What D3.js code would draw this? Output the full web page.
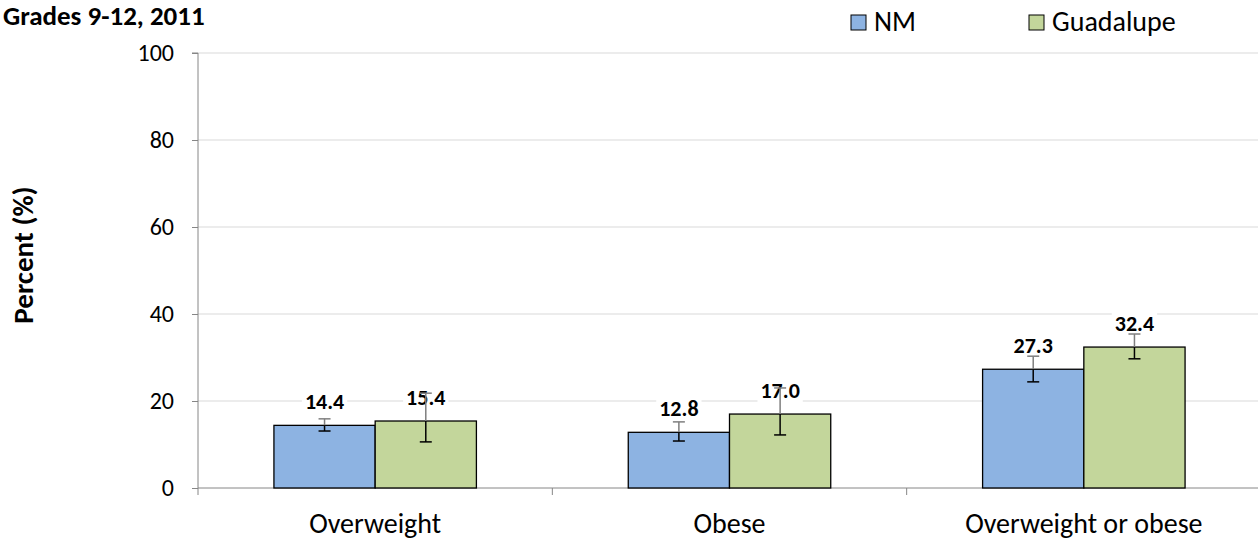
<!DOCTYPE html>
<html><head><meta charset="utf-8">
<script src="https://cdn.jsdelivr.net/npm/d3@7"></script>
<style>body{margin:0;background:#fff}svg{display:block}</style>
</head><body><svg id="c" width="1258" height="542"></svg>
<script>
const categories = ["Overweight", "Obese", "Overweight or obese"];
const seriesNames = ["NM", "Guadalupe"];
const nmValues = [14.4, 12.8, 27.3];
const nmLower = [13.1, 10.8, 24.4];
const nmUpper = [15.9, 15.2, 30.3];
const guadValues = [15.4, 17.0, 32.4];
const guadLower = [10.6, 12.2, 29.7];
const guadUpper = [21.8, 23.0, 35.4];
const yTicks = [0, 20, 40, 60, 80, 100];
const colors = ["#8db3e2", "#c3d69b"];

const font = "Carlito, Lato, 'Liberation Sans', sans-serif";
const svg = d3.select("#c");
const m = {l: 198, r: 1261, t: 53, b: 488};
const x = d3.scaleBand().domain(categories).range([m.l, m.r]).paddingInner(0).paddingOuter(0);
const y = d3.scaleLinear().domain([0, 100]).range([m.b, m.t]);
const inner = d3.scaleBand().domain(seriesNames).range([0, x.bandwidth()]).paddingOuter(0.75).paddingInner(0);

// gridlines
svg.append("g").selectAll("line").data(yTicks.filter(d => d > 0)).join("line")
  .attr("x1", m.l).attr("x2", m.r).attr("y1", d => y(d)).attr("y2", d => y(d))
  .attr("stroke", "#d9d9d9").attr("stroke-width", 1);

// y axis
const ya = svg.append("g").attr("transform", `translate(${m.l},0)`)
  .call(d3.axisLeft(y).tickValues(yTicks).tickSize(6).tickPadding(18));
ya.select(".domain").attr("stroke", "#868686").attr("d", `M-6,${m.t}H0V${m.b+7}`);
ya.selectAll(".tick line").attr("stroke", "#868686");
ya.selectAll(".tick text").attr("font-family", font).attr("font-size", 24).attr("fill", "#000");

// x axis
const xa = svg.append("g").attr("transform", `translate(0,${m.b})`);
xa.append("line").attr("x1", m.l).attr("x2", m.r).attr("y1", 0).attr("y2", 0).attr("stroke", "#868686");
xa.selectAll("line.t").data(categories.slice(1)).join("line").attr("class", "t")
  .attr("x1", d => x(d)).attr("x2", d => x(d)).attr("y1", 0).attr("y2", 7).attr("stroke", "#868686");
xa.selectAll("text").data(categories).join("text")
  .attr("x", d => x(d) + x.bandwidth() / 2).attr("y", 45)
  .attr("text-anchor", "middle").attr("font-family", font).attr("font-size", 28).text(d => d);

const series = [
  {name: seriesNames[0], vals: nmValues, lo: nmLower, hi: nmUpper, color: colors[0]},
  {name: seriesNames[1], vals: guadValues, lo: guadLower, hi: guadUpper, color: colors[1]}
];
const data = [];
series.forEach(s => categories.forEach((c, i) => data.push({c, s: s.name, v: s.vals[i], lo: s.lo[i], hi: s.hi[i], color: s.color})));

const g = svg.append("g");
g.selectAll("rect.bar").data(data).join("rect").attr("class", "bar")
  .attr("x", d => x(d.c) + inner(d.s)).attr("width", inner.bandwidth())
  .attr("y", d => y(d.v)).attr("height", d => y(0) - y(d.v))
  .attr("fill", d => d.color).attr("stroke", "#000").attr("stroke-width", 1.3);

// labels with white background
data.forEach(d => {
  const cx = x(d.c) + inner(d.s) + inner.bandwidth() / 2;
  const cy = y(d.v) - 24;
  const t = g.append("text").attr("x", cx).attr("y", cy).attr("dy", "0.36em")
    .attr("text-anchor", "middle").attr("font-family", font).attr("font-weight", "bold")
    .attr("font-size", 22).text(d.v.toFixed(1));
  const bb = t.node().getBBox();
  g.insert("rect", () => t.node()).attr("x", bb.x - 3).attr("y", bb.y + 2).attr("width", bb.width + 6).attr("height", bb.height - 4)
    .attr("fill", "#fff");
});

// error bars
data.forEach(d => {
  const cx = x(d.c) + inner(d.s) + inner.bandwidth() / 2;
  const top = y(d.hi), bot = y(d.lo), bar = y(d.v);
  const ew = 6;
  if (top < bar) {
    g.append("line").attr("x1", cx).attr("x2", cx).attr("y1", top).attr("y2", bar).attr("stroke", "#7f7f7f").attr("stroke-width", 1.5);
  }
  g.append("line").attr("x1", cx).attr("x2", cx).attr("y1", Math.max(top, bar)).attr("y2", bot).attr("stroke", "#000").attr("stroke-width", 1.5);
  g.append("line").attr("x1", cx - ew).attr("x2", cx + ew).attr("y1", top).attr("y2", top)
    .attr("stroke", top < bar ? "#7f7f7f" : "#000").attr("stroke-width", 1.5);
  g.append("line").attr("x1", cx - ew).attr("x2", cx + ew).attr("y1", bot).attr("y2", bot).attr("stroke", "#000").attr("stroke-width", 1.5);
});

// y title
svg.append("text").attr("transform", "translate(33,255) rotate(-90)").attr("text-anchor", "middle")
  .attr("font-family", font).attr("font-weight", "bold").attr("font-size", 29).text("Percent (%)");
// chart title
svg.append("text").attr("x", 3).attr("y", 25).attr("font-family", font).attr("font-weight", "bold")
  .attr("font-size", 27).text("Grades 9-12, 2011");

// legend
const legX = [851, 1029];
const lg = svg.append("g").selectAll("g").data(series).join("g")
  .attr("transform", (d, i) => `translate(${legX[i]},15)`);
lg.append("rect").attr("width", 15).attr("height", 15).attr("fill", d => d.color).attr("stroke", "#000").attr("stroke-width", 1);
lg.append("text").attr("x", 23).attr("y", 16).attr("font-family", font).attr("font-size", 28).text(d => d.name);
</script></body></html>
